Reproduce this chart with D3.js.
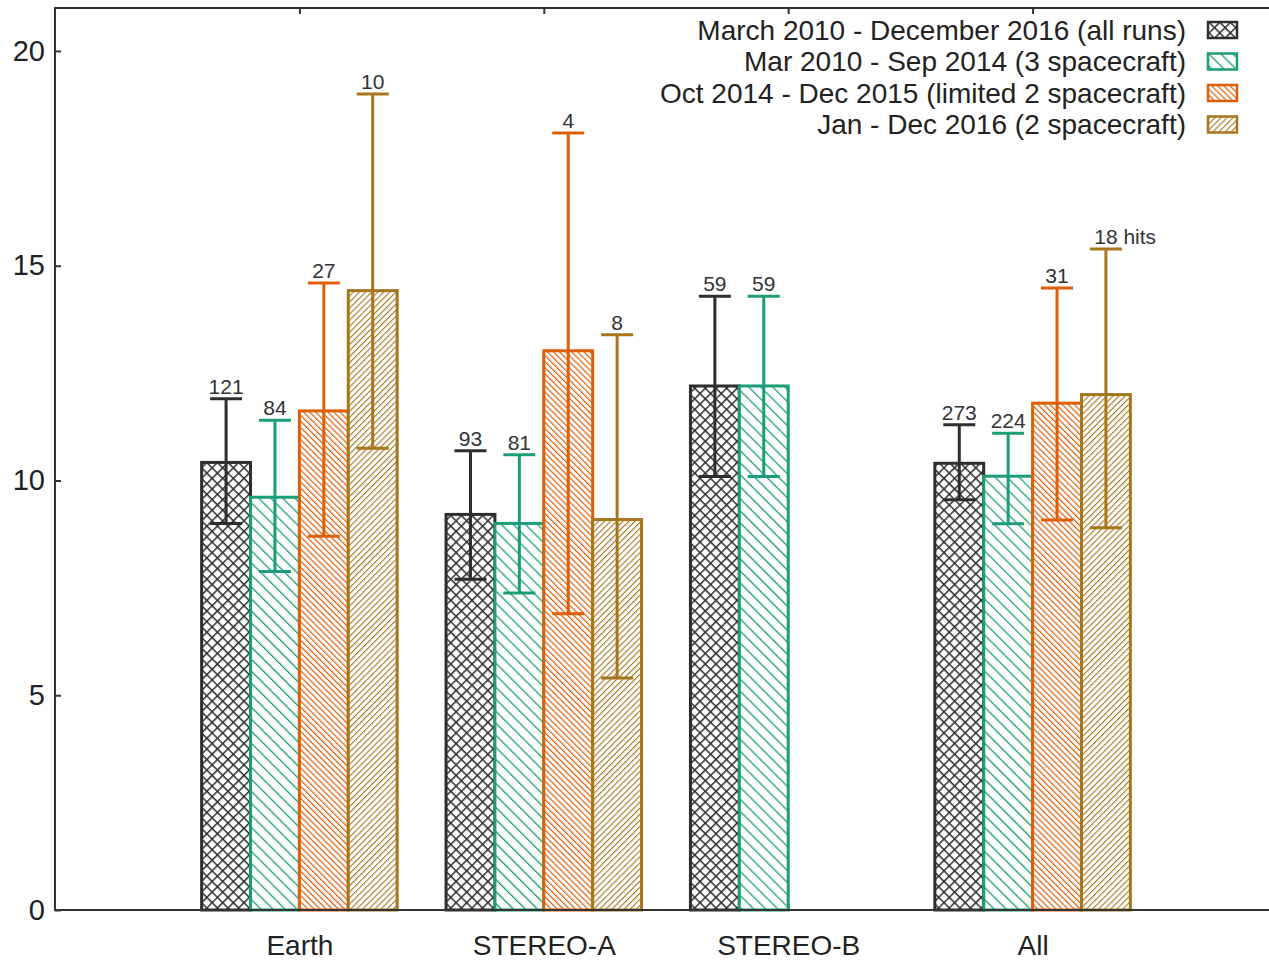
<!DOCTYPE html>
<html>
<head>
<meta charset="utf-8">
<script src="https://cdn.jsdelivr.net/npm/d3@7"></script>
<style>
  html, body { margin: 0; padding: 0; background: #fff; }
  svg { display: block; }
  text { font-family: "Liberation Sans", Arial, Helvetica, sans-serif; }
</style>
</head>
<body>
<svg id="chart" width="1269" height="965"></svg>
<script>
// Spacecraft groups along the x axis
const categories = ["Earth", "STEREO-A", "STEREO-B", "All"];

// Period names (legend order)
const seriesNames = [
  "March 2010 - December 2016 (all runs)",
  "Mar 2010 - Sep 2014 (3 spacecraft)",
  "Oct 2014 - Dec 2015 (limited 2 spacecraft)",
  "Jan - Dec 2016 (2 spacecraft)"
];

// Mean values per group, with lower/upper error limits and hit counts
const allRunsMean = [10.42, 9.21, 12.2, 10.4];
const allRunsLow  = [9.0, 7.7, 10.09, 9.55];
const allRunsHigh = [11.9, 10.69, 14.29, 11.3];
const allRunsHits = ["121", "93", "59", "273"];

const threeScMean = [9.61, 9.0, 12.2, 10.1];
const threeScLow  = [7.88, 7.38, 10.09, 8.99];
const threeScHigh = [11.4, 10.6, 14.29, 11.1];
const threeScHits = ["84", "81", "59", "224"];

const limitedMean = [11.62, 13.02, null, 11.8];
const limitedLow  = [8.7, 6.9, null, 9.08];
const limitedHigh = [14.6, 18.09, null, 14.48];
const limitedHits = ["27", "4", null, "31"];

const twoScMean = [14.42, 9.09, null, 12.0];
const twoScLow  = [10.75, 5.4, null, 8.9];
const twoScHigh = [19.0, 13.39, null, 15.39];
const twoScHits = ["10", "8", null, "18 hits"];

const yTicks = [0, 5, 10, 15, 20];

const seriesData = [
  { name: seriesNames[0], mean: allRunsMean, low: allRunsLow, high: allRunsHigh, hits: allRunsHits },
  { name: seriesNames[1], mean: threeScMean, low: threeScLow, high: threeScHigh, hits: threeScHits },
  { name: seriesNames[2], mean: limitedMean, low: limitedLow, high: limitedHigh, hits: limitedHits },
  { name: seriesNames[3], mean: twoScMean, low: twoScLow, high: twoScHigh, hits: twoScHits }
];

const colors = ["#2e2e2e", "#1b9e77", "#de5f0a", "#a6761d"];

const svg = d3.select("#chart");
const plotLeft = 55, plotTop = 8, plotBottom = 910, plotRight = 1277;

const x = d3.scaleLinear().domain([-1, 4]).range([plotLeft, plotRight]);
const y = d3.scaleLinear().domain([0, 21]).range([plotBottom, plotTop]);
const inner = d3.scaleBand().domain(seriesNames).range([-0.4, 0.4]);
const barW = x(inner.bandwidth()) - x(0);

// Fill patterns: crosshatch, wide backslash, dense backslash, dense slash
const defs = svg.append("defs");
function hatch(id, color, size, angle, width) {
  const p = defs.append("pattern")
    .attr("id", id).attr("patternUnits", "userSpaceOnUse")
    .attr("width", size).attr("height", size)
    .attr("patternTransform", `rotate(${angle})`);
  p.append("rect").attr("width", size).attr("height", size).attr("fill", "#fff");
  p.append("line").attr("x1", 0).attr("y1", 0).attr("x2", 0).attr("y2", size)
    .attr("stroke", color).attr("stroke-width", width);
  return p;
}
const crossSize = 7.5;
const cross = defs.append("pattern")
  .attr("id", "pat0").attr("patternUnits", "userSpaceOnUse")
  .attr("width", crossSize).attr("height", crossSize).attr("patternTransform", "rotate(45)");
cross.append("rect").attr("width", crossSize).attr("height", crossSize).attr("fill", "#fff");
cross.append("line").attr("x1", 0).attr("y1", 0).attr("x2", 0).attr("y2", crossSize)
  .attr("stroke", colors[0]).attr("stroke-width", 3);
cross.append("line").attr("x1", 0).attr("y1", 0).attr("x2", crossSize).attr("y2", 0)
  .attr("stroke", colors[0]).attr("stroke-width", 3);
hatch("pat1", colors[1], 8.5, -45, 2.6);
hatch("pat2", colors[2], 4.3, -45, 2.4);
hatch("pat3", colors[3], 4.3, 45, 2.2);

// Axes with inward ticks
const frame = "#333";
svg.append("g")
  .attr("transform", `translate(${plotLeft},0)`)
  .call(d3.axisLeft(y).tickValues(yTicks).tickSize(-6).tickPadding(10).tickFormat(d3.format("d")))
  .call(g => g.select(".domain").remove())
  .call(g => g.selectAll("line").attr("stroke", frame).attr("stroke-width", 2))
  .call(g => g.selectAll("text").attr("font-size", 29).attr("fill", "#222"));

svg.append("g")
  .attr("transform", `translate(0,${plotBottom})`)
  .call(d3.axisBottom(x).tickValues(d3.range(categories.length)).tickSize(-6).tickPadding(25)
    .tickFormat(i => categories[i]))
  .call(g => g.select(".domain").remove())
  .call(g => g.selectAll("line").attr("stroke", frame).attr("stroke-width", 2))
  .call(g => g.selectAll("text").attr("font-size", 28).attr("fill", "#222"));

svg.append("g")
  .attr("transform", `translate(0,${plotTop})`)
  .call(d3.axisTop(x).tickValues(d3.range(categories.length)).tickSize(-6).tickFormat(""))
  .call(g => g.select(".domain").remove())
  .call(g => g.selectAll("line").attr("stroke", frame).attr("stroke-width", 2));

// Bars
const bars = [];
seriesData.forEach((s, si) => {
  categories.forEach((c, ci) => {
    if (s.mean[ci] == null) return;
    bars.push({ si, ci, mean: s.mean[ci], low: s.low[ci], high: s.high[ci], hits: s.hits[ci],
      cx: x(ci + inner(s.name) + inner.bandwidth() / 2), x0: x(ci + inner(s.name)) });
  });
});

const gBars = svg.append("g");
gBars.selectAll("rect").data(bars).join("rect")
  .attr("x", d => d.x0).attr("y", d => y(d.mean))
  .attr("width", barW).attr("height", d => y(0) - y(d.mean))
  .attr("fill", d => `url(#pat${d.si})`)
  .attr("stroke", d => colors[d.si]).attr("stroke-width", 3);

// Error bars
const capW = 32;
const gErr = svg.append("g").attr("stroke-width", 3);
gErr.selectAll("path").data(bars).join("path")
  .attr("fill", "none").attr("stroke", d => colors[d.si])
  .attr("d", d => `M${d.cx},${y(d.low)}V${y(d.high)}` +
    `M${d.cx - capW / 2},${y(d.high)}H${d.cx + capW / 2}` +
    `M${d.cx - capW / 2},${y(d.low)}H${d.cx + capW / 2}`);

// Hit counts above the upper caps; the number stays centred on the bar
const gLab = svg.append("g").attr("font-size", 21).attr("fill", "#333");
bars.forEach(d => {
  const parts = d.hits.split(" ");
  const t = gLab.append("text").attr("x", d.cx).attr("y", y(d.high) - 5)
    .attr("text-anchor", "middle").text(parts[0]);
  if (parts.length > 1) {
    const w = t.node().getComputedTextLength();
    gLab.append("text").attr("x", d.cx + w / 2).attr("y", y(d.high) - 5)
      .attr("text-anchor", "start").style("white-space", "pre")
      .text(" " + parts.slice(1).join(" "));
  }
});

// Frame: left, top and bottom borders
svg.append("path").attr("fill", "none").attr("stroke", frame).attr("stroke-width", 2)
  .attr("d", `M${plotRight},${plotTop}H${plotLeft}V${plotBottom}H${plotRight}`);

// Legend
const legend = svg.append("g").attr("font-size", 28).attr("fill", "#222");
seriesNames.forEach((n, i) => {
  const cy = 30 + i * 31.5;
  legend.append("text").attr("x", 1186).attr("y", cy).attr("dy", "0.35em")
    .attr("text-anchor", "end").text(n);
  legend.append("rect").attr("x", 1208).attr("y", cy - 8).attr("width", 29).attr("height", 16)
    .attr("fill", `url(#pat${i})`).attr("stroke", colors[i]).attr("stroke-width", 2.5);
});
</script>
</body>
</html>
